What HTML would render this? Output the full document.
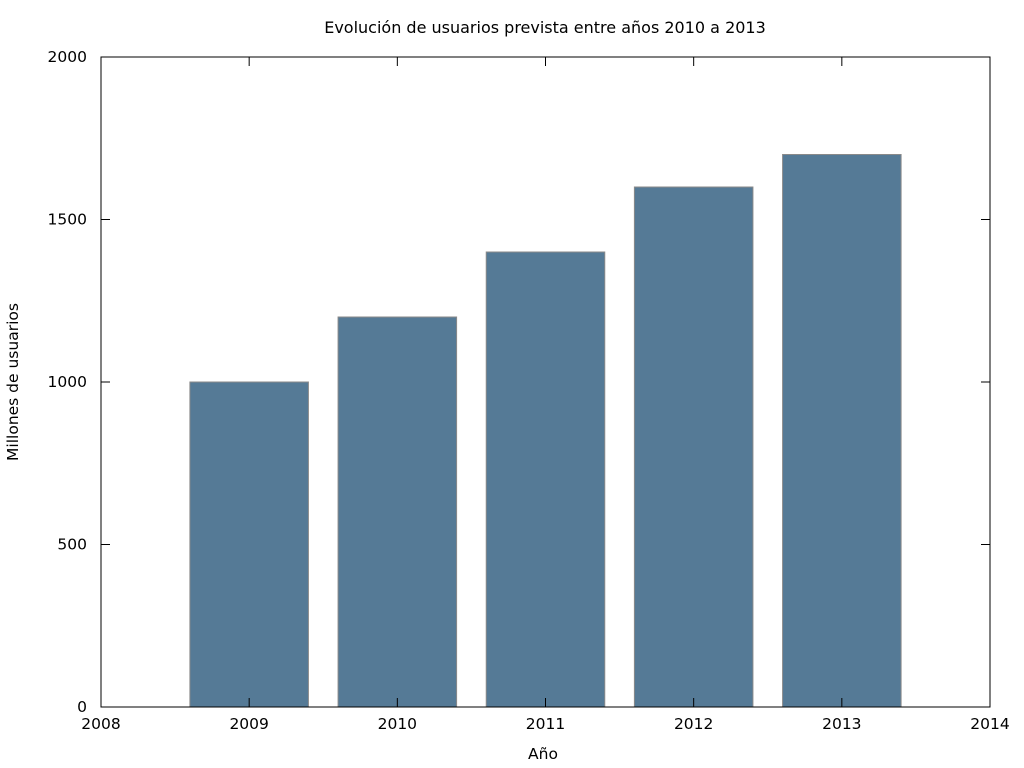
<!DOCTYPE html>
<html><head><meta charset="utf-8"><style>
body{margin:0;background:#fff;}
svg{display:block;font-family:"DejaVu Sans","Liberation Sans",sans-serif;font-size:15.5px;fill:#000;}
</style></head><body>
<svg id="chart" width="1024" height="768">
<text x="545" y="33" text-anchor="middle" style="font-size:16px">Evolución de usuarios prevista entre años 2010 a 2013</text>
<text x="543" y="759" text-anchor="middle">Año</text>
<text transform="translate(18,382) rotate(-90)" text-anchor="middle">Millones de usuarios</text>
<g id="marks"></g>
<rect x="101" y="57" width="889" height="650" fill="none" stroke="#000" stroke-width="1"/>
<g id="ticks"></g>
</svg>
<script>
const years = [2009, 2010, 2011, 2012, 2013];
const users = [1000, 1200, 1400, 1600, 1700];
const xTicks = [2008, 2009, 2010, 2011, 2012, 2013, 2014];
const yTicks = [0, 500, 1000, 1500, 2000];
const NS = "http://www.w3.org/2000/svg";
const L = 101, R = 990, T = 57, B = 707;
const xs = v => L + (v - 2008) / 6 * (R - L);
const ys = v => B - v / 2000 * (B - T);
const marks = document.getElementById('marks');
const ticks = document.getElementById('ticks');
function mk(tag, attrs, parent){const e=document.createElementNS(NS,tag);for(const k in attrs)e.setAttribute(k,attrs[k]);parent.appendChild(e);return e;}
years.forEach((yr,i)=>{
  const x0 = xs(yr-0.4), x1 = xs(yr+0.4);
  const r = mk('rect',{x:x0,y:ys(users[i]),width:x1-x0,height:B-ys(users[i]),fill:'#557a96',stroke:'#8a8a8a','stroke-width':1},marks);
  
  
});
xTicks.forEach(t=>{
  const x = xs(t);
  mk('line',{x1:x,y1:B,x2:x,y2:B-9,stroke:'#000'},ticks);
  mk('line',{x1:x,y1:T,x2:x,y2:T+9,stroke:'#000'},ticks);
  const tx = mk('text',{x:x,y:B+22,'text-anchor':'middle'},ticks);
  tx.textContent = t;
  
  
});
yTicks.forEach(t=>{
  const y = ys(t);
  mk('line',{x1:L,y1:y,x2:L+9,y2:y,stroke:'#000'},ticks);
  mk('line',{x1:R,y1:y,x2:R-9,y2:y,stroke:'#000'},ticks);
  const tx = mk('text',{x:L-14,y:y+5,'text-anchor':'end'},ticks);
  tx.textContent = t;
  
  
});
</script>
</body></html>
